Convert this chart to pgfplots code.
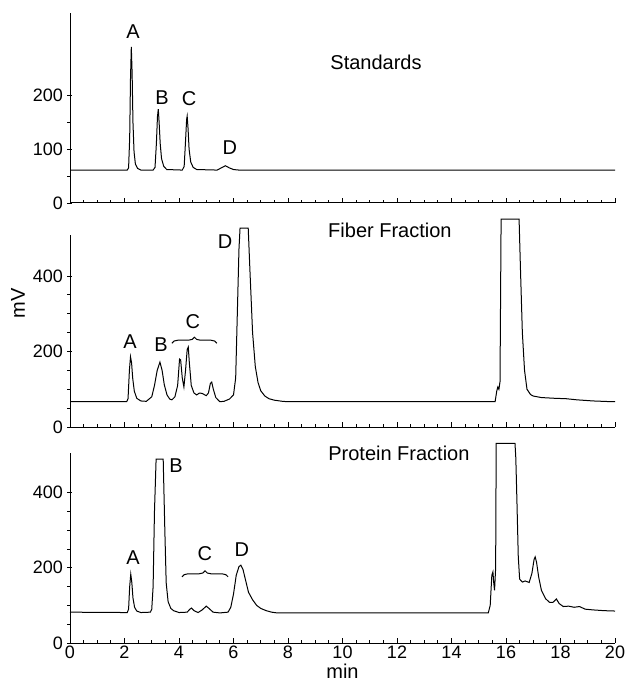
\documentclass[border=0pt]{standalone}
\usepackage{pgfplots}
\pgfplotsset{compat=1.18}
\usepackage{fontspec}
\setmainfont{Liberation Sans}
\usetikzlibrary{decorations.pathreplacing}

\pgfplotsset{
  chrom/.style={
    scale only axis,
    width=272.5pt,
    xmin=0, xmax=20,
    ymin=0,
    axis line style={draw=none},
    xtick pos=bottom, ytick pos=left,
    xtick={0,2,...,20},
    minor x tick num=3,
    tick align=inside,
    major tick length=2.5pt,
    minor tick length=1.5pt,
    y tick style={xshift=-1.5pt},
    tick style={black, line width=0.4pt},
    tick label style={font=\small},
    x tick label style={inner sep=1.5pt},
    /pgf/number format/assume math mode=true,
    clip=false,
    anchor=south west,
  },
  trace/.style={black, line width=0.5pt, mark=none},
}

\begin{document}
\begin{tikzpicture}
\useasboundingbox (0,0) rectangle (313pt,-341.5pt);

% ---------- Standards ----------
\begin{axis}[chrom,
  at={(35pt,-101.5pt)}, height=95pt,
  ymax=352,
  ytick={0,100,200}, minor y tick num=1,
  xticklabels={},
]
\draw[line width=0.5pt] (rel axis cs:0,0) -- (rel axis cs:1,0);
\draw[line width=0.5pt] (axis cs:0,0) -- (axis cs:0,352);
\addplot[trace] coordinates {
 (0,61)(2.10,61)(2.15,65)(2.19,120)(2.22,230)(2.25,289)(2.28,240)(2.31,150)
 (2.35,95)(2.40,72)(2.48,64)(2.6,61)
 (3.05,61)(3.12,66)(3.17,110)(3.21,160)(3.24,174)(3.27,150)(3.31,110)(3.36,82)
 (3.44,68)(3.55,62)
 (4.12,61)(4.19,68)(4.24,115)(4.28,155)(4.30,161)(4.33,140)(4.37,100)(4.43,76)
 (4.52,66)(4.65,62)
 (5.4,61)(5.55,65)(5.7,69)(5.85,65)(6.0,62)(6.2,61)(20,61)
};
\node at (axis cs:2.31,317) {A};
\node at (axis cs:3.38,196) {B};
\node at (axis cs:4.37,194) {C};
\node at (axis cs:5.87,102) {D};
\node at (axis cs:11.23,261) {Standards};
\end{axis}

% ---------- Fiber Fraction ----------
\begin{axis}[chrom,
  at={(35pt,-213.5pt)}, height=104.75pt,
  ymax=555,
  ytick={0,200,400}, minor y tick num=3,
  xticklabels={},
]
\draw[line width=0.5pt] (rel axis cs:0,0) -- (rel axis cs:1,0);
\draw[line width=0.5pt] (axis cs:0,0) -- (axis cs:0,508);
\addplot[trace] coordinates {
 (0,67)(2.08,67)(2.13,75)(2.18,150)(2.22,186)(2.26,170)(2.30,130)(2.36,95)
 (2.45,76)(2.6,69)(2.8,68)(3.0,80)(3.1,110)(3.2,150)(3.3,172)(3.38,150)
 (3.46,112)(3.56,85)(3.66,74)(3.74,72)(3.85,80)(3.95,110)(4.02,180)(4.06,178)
 (4.12,130)(4.18,106)(4.24,150)(4.30,205)(4.34,212)(4.38,170)(4.45,110)(4.55,90)
 (4.65,85)(4.75,90)(4.85,89)(5.0,83)(5.08,90)(5.15,115)(5.2,119)(5.26,100)
 (5.35,78)(5.5,67)(5.65,68)(5.85,74)(6.0,85)(6.08,130)(6.14,300)(6.2,470)
 (6.24,527)(6.54,527)(6.6,420)(6.7,250)(6.8,160)(6.9,118)(7.0,96)(7.15,82)
 (7.3,75)(7.5,71)(7.8,68)(8,67)(15.6,67)(15.66,95)(15.7,106)(15.74,100)
 (15.78,120)(15.82,551)(16.48,551)(16.53,420)(16.6,250)(16.68,150)(16.77,100)
 (16.9,86)(17.0,82)(17.3,78)(17.8,76)(18.2,75)(18.6,72)(19.2,69)(19.9,67)(20,67)
};
\node at (axis cs:2.2,225) {A};
\node at (axis cs:3.34,217) {B};
\node at (axis cs:4.51,278) {C};
\draw[decorate, decoration={brace, amplitude=3pt}, line width=0.5pt]
  (axis cs:3.74,222) -- (axis cs:5.39,222);
\node at (axis cs:5.69,490) {D};
\node at (axis cs:11.74,522) {Fiber Fraction};
\node[rotate=90] at ([xshift=-26pt]axis cs:0,328) {mV};
\end{axis}

% ---------- Protein Fraction ----------
\begin{axis}[chrom,
  at={(35pt,-321.5pt)}, height=100.6pt,
  ymax=535,
  ytick={0,200,400}, minor y tick num=3,
]
\draw[line width=0.5pt] (rel axis cs:0,0) -- (rel axis cs:1,0);
\draw[line width=0.5pt] (axis cs:0,0) -- (axis cs:0,505);
\addplot[trace] coordinates {
 (0,82)(2.1,81)(2.15,90)(2.19,150)(2.23,183)(2.27,160)(2.31,120)(2.37,95)
 (2.45,85)(2.6,81)(2.95,82)(3.0,90)(3.05,150)(3.1,350)(3.16,489)(3.42,489)
 (3.48,300)(3.53,160)(3.6,110)(3.7,92)(3.8,86)(4.0,81)(4.3,82)(4.4,90)
 (4.46,93)(4.55,86)(4.7,81)(4.85,88)(5.0,98)(5.1,92)(5.25,82)(5.5,80)
 (5.8,82)(5.9,95)(6.0,130)(6.1,180)(6.2,203)(6.27,207)(6.35,195)(6.45,165)
 (6.55,135)(6.7,115)(6.85,100)(7.0,92)(7.2,86)(7.4,82)(7.6,80)(15.35,80)
 (15.42,100)(15.48,180)(15.52,189)(15.55,160)(15.58,140)(15.62,200)(15.64,531)
 (16.33,531)(16.36,492)(16.4,380)(16.45,230)(16.5,170)(16.6,162)(16.7,165)
 (16.85,161)(16.95,185)(17.03,222)(17.07,229)(17.12,215)(17.2,175)(17.3,140)
 (17.45,118)(17.6,108)(17.72,108)(17.85,117)(17.95,105)(18.1,97)(18.3,98)
 (18.5,95)(18.7,97)(18.9,90)(19.2,88)(19.6,86)(20,85)
};
\node at (axis cs:2.31,226) {A};
\node at (axis cs:3.89,473) {B};
\node at (axis cs:4.95,239) {C};
\draw[decorate, decoration={brace, amplitude=3pt}, line width=0.5pt]
  (axis cs:4.11,176) -- (axis cs:5.80,176);
\node at (axis cs:6.31,247) {D};
\node at (axis cs:12.07,505) {Protein Fraction};
\node[anchor=north, inner sep=0pt] at ([yshift=-10.5pt]axis cs:10,0) {min};
\end{axis}
\end{tikzpicture}
\end{document}
